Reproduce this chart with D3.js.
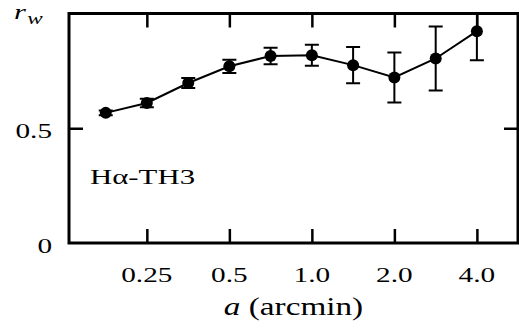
<!DOCTYPE html>
<html>
<head>
<meta charset="utf-8">
<script src="https://cdn.jsdelivr.net/npm/d3@7"></script>
<style>
  body { margin: 0; background: #fff; }
</style>
</head>
<body>
<div id="chart"></div>
<script>
// data
const scales = [0.177, 0.25, 0.354, 0.5, 0.707, 1.0, 1.414, 2.0, 2.83, 4.0];
const rw = [0.567, 0.610, 0.697, 0.770, 0.815, 0.818, 0.775, 0.721, 0.804, 0.923];
const rwErr = [0.010, 0.019, 0.022, 0.029, 0.036, 0.046, 0.079, 0.109, 0.139, 0.127];
const xTicks = [0.25, 0.5, 1.0, 2.0, 4.0];
const yTicks = [0, 0.5];

const width = 519, height = 328;
const plotL = 69, plotR = 518, plotT = 13.5, plotB = 243;
const serif = "'Liberation Serif', 'DejaVu Serif', serif";
const stretch = 1.33; // the original lettering is wide, like a TeX font

const svg = d3.select("#chart").append("svg")
    .attr("width", width)
    .attr("height", height)
    .style("font-family", serif);

const x = d3.scaleLog().domain([0.13, 5.65]).range([plotL, plotR]);
const y = d3.scaleLinear().domain([0, 1]).range([plotB, plotT]);

svg.append("clipPath").attr("id", "plot")
  .append("rect")
    .attr("x", plotL).attr("y", plotT)
    .attr("width", plotR - plotL).attr("height", plotB - plotT);

// inward ticks, drawn on all sides
const tickLen = 14;
svg.append("g").call(d3.axisBottom(x).tickValues(xTicks).tickSize(tickLen).tickFormat(""))
    .attr("transform", "translate(0," + (plotB - tickLen) + ")")
    .call(g => g.select(".domain").remove());
svg.append("g").call(d3.axisBottom(x).tickValues(xTicks).tickSize(tickLen).tickFormat(""))
    .attr("transform", "translate(0," + plotT + ")")
    .call(g => g.select(".domain").remove());
svg.append("g").call(d3.axisRight(y).tickValues([0.5]).tickSize(tickLen).tickFormat(""))
    .attr("transform", "translate(" + plotL + ",0)")
    .call(g => g.select(".domain").remove());
svg.append("g").call(d3.axisRight(y).tickValues([0.5]).tickSize(tickLen).tickFormat(""))
    .attr("transform", "translate(" + (plotR - tickLen) + ",0)")
    .call(g => g.select(".domain").remove());
svg.selectAll(".tick line").attr("stroke", "#000").attr("stroke-width", 2.5);

// frame
svg.append("rect")
    .attr("x", plotL).attr("y", plotT)
    .attr("width", plotR - plotL).attr("height", plotB - plotT)
    .attr("fill", "none").attr("stroke", "#000").attr("stroke-width", 3);

// tick labels
svg.append("g").selectAll("text").data(xTicks).join("text")
    .attr("transform", d => "translate(" + x(d) + ",282) scale(" + stretch + ",1)")
    .attr("text-anchor", "middle")
    .style("font-family", serif)
    .style("font-size", "22px")
    .text(d => d === 0.25 ? "0.25" : d.toFixed(1));

svg.append("g").selectAll("text").data(yTicks).join("text")
    .attr("transform", d => "translate(52," + (y(d) + 9.5) + ") scale(" + stretch + ",1)")
    .attr("text-anchor", "end")
    .style("font-family", serif)
    .style("font-size", "22px")
    .text(d => d === 0 ? "0" : "0.5");

// axis titles
const xt = svg.append("text")
    .attr("transform", "translate(" + ((plotL + plotR) / 2) + ",315) scale(" + stretch + ",1)")
    .attr("text-anchor", "middle")
    .style("font-family", serif)
    .style("font-size", "25px");
xt.append("tspan").style("font-style", "italic").text("a");
xt.append("tspan").text(" (arcmin)");

const yt = svg.append("text")
    .attr("transform", "translate(14,19) scale(1.45,1)")
    .style("font-family", serif).style("font-size", "21px");
yt.append("tspan").style("font-style", "italic").text("r");
yt.append("tspan").attr("dx", 1).attr("dy", 5).style("font-style", "italic").style("font-size", "16px").text("w");

svg.append("text")
    .attr("transform", "translate(90,184) scale(1.4,1)")
    .style("font-family", serif)
    .style("font-size", "22px")
    .text("Hα-TH3");

// data
const pts = scales.map((s, i) => ({ s: s, v: rw[i], e: rwErr[i] }));
const g = svg.append("g").attr("clip-path", "url(#plot)");

g.append("path")
    .datum(pts)
    .attr("fill", "none")
    .attr("stroke", "#000")
    .attr("stroke-width", 2)
    .attr("d", d3.line().x(d => x(d.s)).y(d => y(d.v)));

const eb = g.selectAll(".err").data(pts).join("g").attr("class", "err")
    .attr("stroke", "#000").attr("stroke-width", 2);
eb.append("line")
    .attr("x1", d => x(d.s)).attr("x2", d => x(d.s))
    .attr("y1", d => y(d.v - d.e)).attr("y2", d => y(d.v + d.e));
eb.append("line")
    .attr("x1", d => x(d.s) - 7).attr("x2", d => x(d.s) + 7)
    .attr("y1", d => y(d.v - d.e)).attr("y2", d => y(d.v - d.e));
eb.append("line")
    .attr("x1", d => x(d.s) - 7).attr("x2", d => x(d.s) + 7)
    .attr("y1", d => y(d.v + d.e)).attr("y2", d => y(d.v + d.e));

g.selectAll(".dot").data(pts).join("circle")
    .attr("class", "dot")
    .attr("cx", d => x(d.s))
    .attr("cy", d => y(d.v))
    .attr("r", 6)
    .attr("fill", "#000");
</script>
</body>
</html>
